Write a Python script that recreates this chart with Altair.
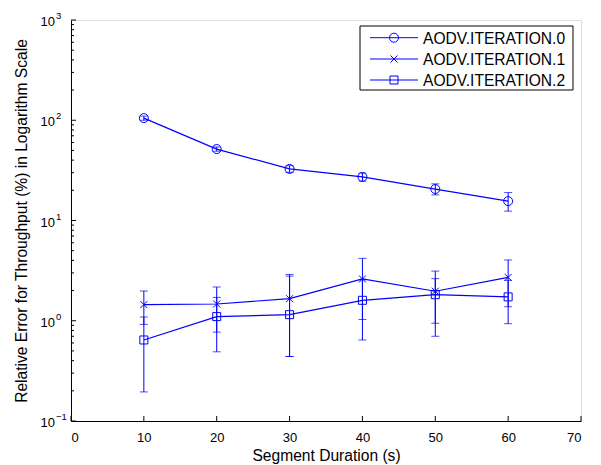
import altair as alt
import pandas as pd

# ---- data ----
durations = [10, 20, 30, 40, 50, 60]
series_names = ["AODV.ITERATION.0", "AODV.ITERATION.1", "AODV.ITERATION.2"]

iter0_mean = [105, 51.6, 32.7, 27.2, 20.6, 15.6]
iter0_low = [100, 49.1, 30.2, 24.7, 18.0, 12.4]
iter0_high = [110, 54.1, 35.2, 29.7, 23.2, 19.0]

iter1_mean = [1.45, 1.47, 1.66, 2.61, 1.97, 2.71]
iter1_low = [0.92, 0.77, 0.44, 1.03, 0.70, 1.38]
iter1_high = [1.98, 2.17, 2.90, 4.19, 3.13, 4.04]

iter2_mean = [0.643, 1.10, 1.15, 1.60, 1.82, 1.73]
iter2_low = [0.195, 0.49, 0.44, 0.643, 0.944, 0.935]
iter2_high = [1.09, 1.71, 2.79, 2.56, 2.63, 2.53]

x_ticks = [0, 10, 20, 30, 40, 50, 60, 70]
y_major = [0.1, 1, 10, 100, 1000]
y_exponents = ["\u22121", "0", "1", "2", "3"]
y_minor = [m * 10.0 ** e for e in range(-1, 3) for m in range(2, 10)]

means = [iter0_mean, iter1_mean, iter2_mean]
lows = [iter0_low, iter1_low, iter2_low]
highs = [iter0_high, iter1_high, iter2_high]

BLUE = "#0000ff"
FONT = "Liberation Sans"
X_PATH = "M-1,-1L1,1M-1,1L1,-1"
shapes = ["circle", X_PATH, "square"]
sizes = [81, 49, 64]

W, H = 510, 401
xscale = alt.Scale(domain=[0, 70], nice=False, zero=False)
yscale = alt.Scale(type="log", domain=[0.1, 1000], nice=False)

xaxis = alt.Axis(values=x_ticks, ticks=False, tickSize=0, grid=False,
                 labelFontSize=13, labelFont=FONT, labelColor="black",
                 labelPadding=10, domainColor="black",
                 title="Segment Duration (s)", titleFont=FONT,
                 titleFontSize=15.6, titleFontWeight="normal",
                 titleColor="black", titleBaseline="middle", titleY=34)
yaxis = alt.Axis(values=y_major, ticks=False, tickSize=0, labels=False,
                 grid=False, domainColor="black",
                 title="Relative Error for Throughput (%) in Logarithm Scale",
                 titleFont=FONT, titleFontSize=15.6,
                 titleFontWeight="normal", titleColor="black",
                 titleBaseline="middle", titleX=-50, titleY=H / 2,
                 titleAngle=270)


def X(field):
    return alt.X(field, scale=xscale, axis=xaxis)


def Y(field):
    return alt.Y(field, scale=yscale, axis=yaxis)


layers = []

# inward ticks
xt = alt.Chart(pd.DataFrame({"v": x_ticks})).mark_rule(color="black", strokeWidth=1).encode(
    x=X("v:Q"), y=alt.value(H), y2=alt.value(H - 5))
ymaj = alt.Chart(pd.DataFrame({"v": y_major})).mark_rule(color="black", strokeWidth=1).encode(
    y=Y("v:Q"), x=alt.value(0), x2=alt.value(5))
ymin = alt.Chart(pd.DataFrame({"v": y_minor})).mark_rule(color="black", strokeWidth=1).encode(
    y=Y("v:Q"), x=alt.value(0), x2=alt.value(3))
layers += [xt, ymaj, ymin]

# y tick labels with superscript exponents
ylab_df = pd.DataFrame({"v": y_major, "base": ["10"] * len(y_major), "exp": y_exponents})
ybase = alt.Chart(ylab_df).mark_text(align="right", baseline="middle", fontSize=13,
                                     font=FONT, color="black", dy=2).encode(
    y=Y("v:Q"), x=alt.value(-16), text="base:N")
yexp = alt.Chart(ylab_df).mark_text(align="left", baseline="middle", fontSize=9.5,
                                    font=FONT, color="black", dy=-4).encode(
    y=Y("v:Q"), x=alt.value(-15), text="exp:N")
layers += [ybase, yexp]

# series: error bars, lines, markers
for i, name in enumerate(series_names):
    df = pd.DataFrame({"x": durations, "m": means[i], "lo": lows[i], "hi": highs[i]})
    base = alt.Chart(df)
    err = base.mark_rule(color=BLUE, strokeWidth=1).encode(
        x=X("x:Q"), y=Y("lo:Q"), y2="hi:Q")
    cap_lo = base.mark_tick(color=BLUE, orient="horizontal", size=8, thickness=1).encode(
        x=X("x:Q"), y=Y("lo:Q"))
    cap_hi = base.mark_tick(color=BLUE, orient="horizontal", size=8, thickness=1).encode(
        x=X("x:Q"), y=Y("hi:Q"))
    line = base.mark_line(color=BLUE, strokeWidth=1.2).encode(
        x=X("x:Q"), y=Y("m:Q"))
    pts = base.mark_point(shape=shapes[i], size=sizes[i], filled=False, color=BLUE,
                          strokeWidth=1, opacity=1).encode(
        x=X("x:Q"), y=Y("m:Q"))
    layers += [err, cap_lo, cap_hi, line, pts]

# legend box
one = pd.DataFrame({"a": [0]})
box = alt.Chart(one).mark_rect(fill="white", stroke="black", strokeWidth=1).encode(
    x=alt.value(289), x2=alt.value(502), y=alt.value(6), y2=alt.value(70))
layers.append(box)
row_y = [17.7, 39, 60]
for i, name in enumerate(series_names):
    d = pd.DataFrame({"name": [name]})
    c = alt.Chart(d)
    layers.append(c.mark_rule(color=BLUE, strokeWidth=1).encode(
        x=alt.value(299), x2=alt.value(347), y=alt.value(row_y[i])))
    layers.append(c.mark_point(shape=shapes[i], size=sizes[i], filled=False, color=BLUE,
                               strokeWidth=1, opacity=1).encode(
        x=alt.value(323), y=alt.value(row_y[i])))
    layers.append(c.mark_text(align="left", baseline="middle", fontSize=15.6, font=FONT,
                              color="black").encode(
        x=alt.value(352), y=alt.value(row_y[i] + 1), text="name:N"))

chart = alt.layer(*layers).properties(
    width=W, height=H,
    autosize=alt.AutoSizeParams(type="none"),
    padding={"left": 63, "top": 12, "right": 10, "bottom": 44},
).configure_view(stroke=None).configure(background="white")

chart.save("out.html", embed_options={"renderer": "svg", "actions": False})
